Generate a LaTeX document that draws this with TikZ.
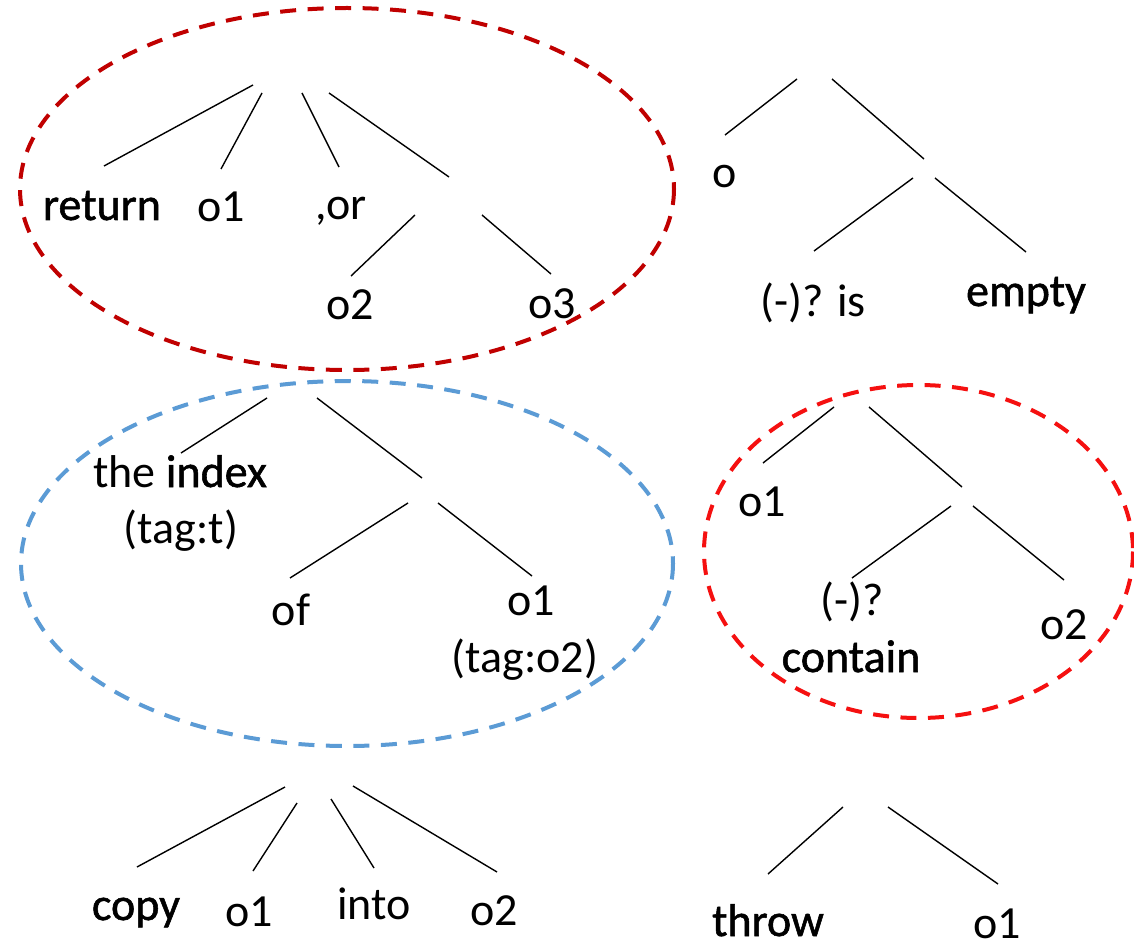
\documentclass[tikz,border=0pt]{standalone}
\usepackage{fontspec}
\setmainfont{Carlito}
\newfontfamily\emfont[FakeBold=1.2]{Carlito}
\begin{document}
\begin{tikzpicture}[x=1pt,y=-1pt,
  lbl/.style={anchor=base,inner sep=0pt,font=\fontsize{46}{52}\selectfont},
  emlbl/.style={lbl,font=\fontsize{46}{52}\selectfont\emfont},
  edge/.style={line width=1.4pt,black},
  ring/.style={line width=4pt,dash pattern=on 16pt off 11.5pt}]
\definecolor{darkred}{HTML}{C00000}
\definecolor{skyblue}{HTML}{5B9BD5}
\definecolor{brightred}{HTML}{F51010}
\useasboundingbox (0,0) rectangle (1134,941);
\fill[white] (0,0) rectangle (1134,941);

% ---------- tree 1: return o1 ,or o2 o3
\coordinate (t1a) at (253,85);  \coordinate (t1b) at (104,166);
\coordinate (t1c) at (262,93);  \coordinate (t1d) at (221,169);
\coordinate (t1e) at (302,93);  \coordinate (t1f) at (339,167);
\coordinate (t1g) at (329,93);  \coordinate (t1h) at (449,177);
\coordinate (t1i) at (415,215); \coordinate (t1j) at (351,276);
\coordinate (t1k) at (482,215); \coordinate (t1l) at (551,274);
\draw[edge] (t1a) -- (t1b);
\draw[edge] (t1c) -- (t1d);
\draw[edge] (t1e) -- (t1f);
\draw[edge] (t1g) -- (t1h);
\draw[edge] (t1i) -- (t1j);
\draw[edge] (t1k) -- (t1l);
\node[emlbl] (ret) at (102,220) {return};
\node[lbl] (o1a) at (221,222) {o1};
\node[lbl] (or) at (341,220) {,or};
\node[lbl] (o2a) at (350,319) {o2};
\node[lbl] (o3a) at (552,318) {o3};
\draw[ring,darkred] (347,189) ellipse [x radius=327, y radius=181];

% ---------- tree 2: o (-)? is empty
\coordinate (t2a) at (797,79);  \coordinate (t2b) at (725,135);
\coordinate (t2c) at (832,79);  \coordinate (t2d) at (924,159);
\coordinate (t2e) at (913,178); \coordinate (t2f) at (814,251);
\coordinate (t2g) at (935,178); \coordinate (t2h) at (1026,252);
\draw[edge] (t2a) -- (t2b);
\draw[edge] (t2c) -- (t2d);
\draw[edge] (t2e) -- (t2f);
\draw[edge] (t2g) -- (t2h);
\node[lbl] (ob) at (725,188) {o};
\node[lbl] (isn) at (813,316) {(-)? is};
\node[emlbl] (emp) at (1026,306) {empty};

% ---------- tree 3: the index of o1
\coordinate (t3a) at (267,398); \coordinate (t3b) at (181,453);
\coordinate (t3c) at (317,398); \coordinate (t3d) at (422,478);
\coordinate (t3e) at (408,503); \coordinate (t3f) at (290,578);
\coordinate (t3g) at (438,503); \coordinate (t3h) at (532,576);
\draw[edge] (t3a) -- (t3b);
\draw[edge] (t3c) -- (t3d);
\draw[edge] (t3e) -- (t3f);
\draw[edge] (t3g) -- (t3h);
\node[lbl] (idx) at (180,487) {the {\emfont index}};
\node[lbl] (tagt) at (181,543) {(tag:t)};
\node[lbl] (of) at (291,625) {of};
\node[lbl] (o1c) at (531,615) {o1};
\node[lbl] (tago) at (525,672) {(tag:o2)};
\draw[ring,skyblue] (347,563.5) ellipse [x radius=326, y radius=182.5];

% ---------- tree 4: o1 (-)? contain o2
\coordinate (t4a) at (834,407); \coordinate (t4b) at (763,463);
\coordinate (t4c) at (869,407); \coordinate (t4d) at (962,487);
\coordinate (t4e) at (951,506); \coordinate (t4f) at (852,578);
\coordinate (t4g) at (973,506); \coordinate (t4h) at (1064,580);
\draw[edge] (t4a) -- (t4b);
\draw[edge] (t4c) -- (t4d);
\draw[edge] (t4e) -- (t4f);
\draw[edge] (t4g) -- (t4h);
\node[lbl] (o1d) at (762,516) {o1};
\node[lbl] (neg) at (852,615) {(-)?};
\node[emlbl] (cont) at (851,672) {contain};
\node[lbl] (o2d) at (1064,639) {o2};
\draw[brightred,ring] (918.5,551.5) ellipse [x radius=214.5, y radius=166.5];

% ---------- tree 5: copy o1 into o2
\coordinate (t5a) at (285,787); \coordinate (t5b) at (137,867);
\coordinate (t5c) at (297,803); \coordinate (t5d) at (253,871);
\coordinate (t5e) at (331,799); \coordinate (t5f) at (374,868);
\coordinate (t5g) at (353,786); \coordinate (t5h) at (497,872);
\draw[edge] (t5a) -- (t5b);
\draw[edge] (t5c) -- (t5d);
\draw[edge] (t5e) -- (t5f);
\draw[edge] (t5g) -- (t5h);
\node[emlbl] (copy) at (136,920) {copy};
\node[lbl] (o1e) at (249,926) {o1};
\node[lbl] (into) at (374,919) {into};
\node[lbl] (o2e) at (494,925) {o2};

% ---------- tree 6: throw o1
\coordinate (t6a) at (843,807); \coordinate (t6b) at (768,874);
\coordinate (t6c) at (888,807); \coordinate (t6d) at (998,884);
\draw[edge] (t6a) -- (t6b);
\draw[edge] (t6c) -- (t6d);
\node[emlbl] (thr) at (768,936) {throw};
\node[lbl] (o1f) at (997,938) {o1};
\end{tikzpicture}
\end{document}
